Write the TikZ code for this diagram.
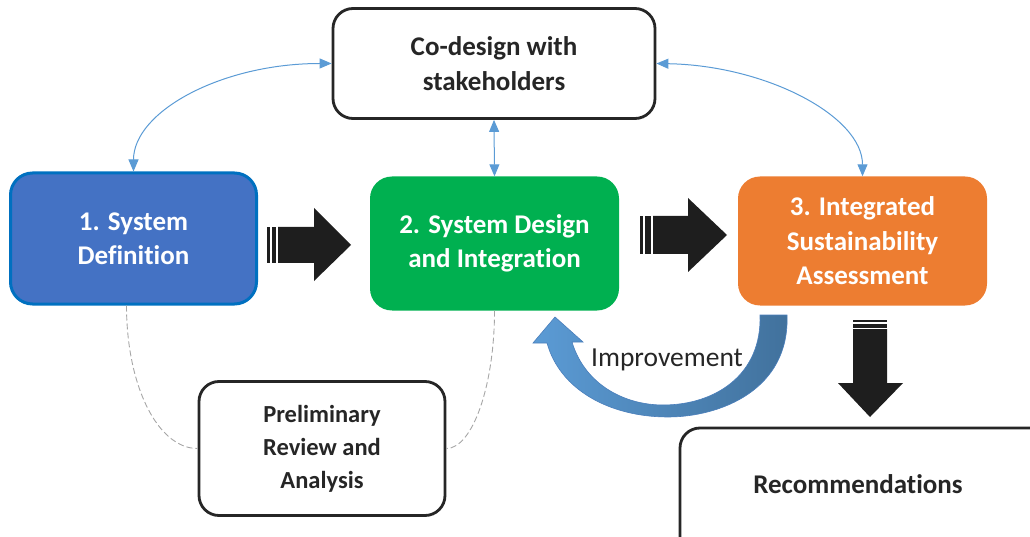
\documentclass[tikz,border=0pt]{standalone}
\usepackage{fontspec}
\setmainfont{Carlito}[Ligatures=NoCommon]
\usetikzlibrary{arrows.meta,calc}
\definecolor{bluefill}{HTML}{4472C4}
\definecolor{blueline}{HTML}{0070C0}
\definecolor{greenfill}{HTML}{00B050}
\definecolor{orangefill}{HTML}{ED7D31}
\definecolor{darkline}{HTML}{262626}
\definecolor{conn}{HTML}{5B9BD5}
\definecolor{arrowblack}{HTML}{1E1E1E}
\definecolor{improvlight}{HTML}{5B9BD5}
\definecolor{improvdark}{HTML}{41719C}
\definecolor{impline}{HTML}{4A7EBB}
\definecolor{dashgray}{HTML}{A6A6A6}
\tikzset{
  boxtext/.style={font=\bfseries\fontsize{27}{34.5}\selectfont, align=center},
  whitebox/.style={boxtext, rectangle, rounded corners=20pt, draw=darkline, line width=2.8pt, fill=white, text=darkline},
  colbox/.style={boxtext, rectangle, rounded corners=22pt, text=white},
  link/.style={conn, line width=1pt, {Triangle[length=12pt,width=10pt]}-{Triangle[length=12pt,width=10pt]}},
  dashlink/.style={dashgray, line width=0.9pt, dash pattern=on 6pt off 3pt},
  bigarrow/.style={fill=arrowblack}
}
\begin{document}
\begin{tikzpicture}[x=1pt,y=-1pt]
\useasboundingbox (0,0) rectangle (1030,537);
\clip (0,0) rectangle (1030,537);

% boxes
\node[whitebox, minimum width=322pt, minimum height=110pt] (co) at (494,63.5) {Co-design with\\stakeholders};
\node[colbox, fill=bluefill, draw=blueline, line width=3pt, minimum width=246pt, minimum height=131pt] (s1) at (133.5,238.5) {1. System\\Definition};
\node[colbox, fill=greenfill, minimum width=249pt, minimum height=134pt] (s2) at (494.5,243.5) {2. System Design\\and Integration};
\node[colbox, fill=orangefill, minimum width=249pt, minimum height=129pt] (s3) at (862.5,241) {3. Integrated\\Sustainability\\Assessment};
\node[whitebox, font=\bfseries\fontsize{24.5}{33}\selectfont, minimum width=246pt, minimum height=134pt] (pre) at (322,448.5) {Preliminary\\Review and\\Analysis};
\node[whitebox, minimum width=380pt, minimum height=142pt] (rec) at (870,499) {};
\node[boxtext, text=darkline] (reclbl) at (858,484) {Recommendations};

% blue connectors
\draw[link] (s1.north) .. controls +(0,-60) and +(-110,0) .. (co.west);
\draw[link] (co.east) .. controls +(110,2) and +(0,-60) .. (s3.north);
\draw[link] (co.south) -- (s2.north);

% dashed links
\draw[dashlink] ([xshift=-7pt]s1.south) .. controls +(0,80) and +(-40,0) .. (pre.west);
\draw[dashlink] (s2.south) .. controls +(0,75) and +(26,0) .. (pre.east);

% striped arrow 1
\fill[bigarrow] (278,227) -- (314,227) -- (314,208) -- (351,245) -- (314,281) -- (314,263) -- (278,263) -- cycle;
\fill[bigarrow] (267,227) rectangle (270,263);
\fill[bigarrow] (272,227) rectangle (276,263);
% striped arrow 2
\fill[bigarrow] (653,216) -- (688,216) -- (688,198) -- (727,235) -- (688,272) -- (688,254) -- (653,254) -- cycle;
\fill[bigarrow] (640,216) rectangle (643,254);
\fill[bigarrow] (645,216) rectangle (651,254);
% down arrow
\fill[bigarrow] (853,329) -- (887,329) -- (887,383) -- (903,383) -- (870,417) -- (838,383) -- (853,383) -- cycle;
\fill[bigarrow] (853,320) rectangle (887,322);
\fill[bigarrow] (853,324) rectangle (887,328);

% improvement curved arrow
\path[draw=impline, line width=0.6pt, left color=improvlight, right color=improvdark]
  (787,315) .. controls (790,390) and (720,417) .. (668,417)
  .. controls (610,417) and (560,390) .. (547,343)
  -- (533,343) -- (555,317) -- (583,342) -- (572,342)
  .. controls (585,385) and (625,405) .. (663,405)
  .. controls (715,405) and (762,375) .. (760,315) -- cycle;
\node[font=\fontsize{27.5}{30}\selectfont, text=darkline] (imp) at (667,360) {Improvement};
\end{tikzpicture}
\end{document}
